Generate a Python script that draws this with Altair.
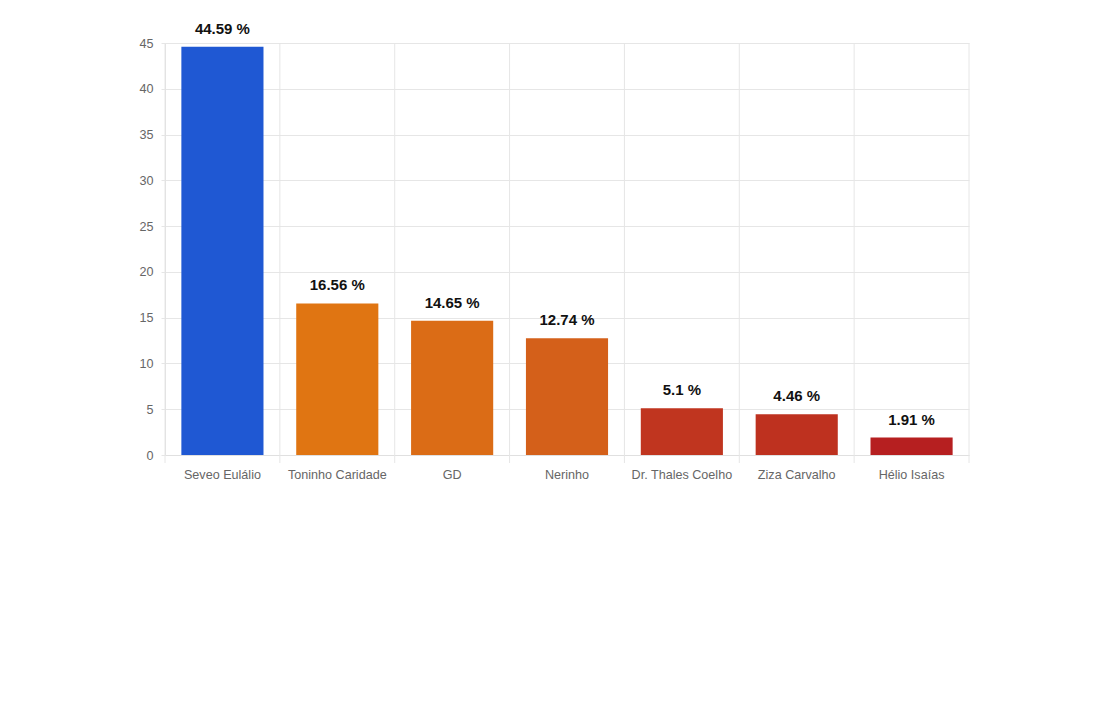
import altair as alt
import pandas as pd

candidates = ["Seveo Eulálio", "Toninho Caridade", "GD", "Nerinho",
              "Dr. Thales Coelho", "Ziza Carvalho", "Hélio Isaías"]
values = [44.59, 16.56, 14.65, 12.74, 5.1, 4.46, 1.91]
labels = ["44.59 %", "16.56 %", "14.65 %", "12.74 %", "5.1 %", "4.46 %", "1.91 %"]
colors = ["#1f58d3", "#e07512", "#db6c16", "#d4601a", "#c0351f", "#be311f", "#b61f20"]
boundaries = list(range(0, len(candidates) + 1))

df = pd.DataFrame({"candidate": candidates, "value": values, "label": labels})
bdf = pd.DataFrame({"b": boundaries})

x = alt.X("candidate:N", sort=candidates, title=None,
          scale=alt.Scale(paddingInner=0.285, paddingOuter=0.1425),
          axis=alt.Axis(labelAngle=0, grid=False, ticks=False, domainColor="#e0e0e0",
                        labelColor="#666666", labelFontSize=12.6, labelFont="Liberation Sans",
                        labelPadding=13))
y = alt.Y("value:Q", title=None,
          scale=alt.Scale(domain=[0, 45], nice=False),
          axis=alt.Axis(values=list(range(0, 50, 5)), grid=True, gridColor="#e6e6e6",
                        tickColor="#e6e6e6", tickSize=4, domainColor="#e0e0e0",
                        labelColor="#666666", labelFontSize=12.6, labelFont="Liberation Sans",
                        labelPadding=8))

grid = alt.Chart(bdf).mark_rule(color="#e6e6e6", strokeWidth=1).encode(
    x=alt.X("b:Q", scale=alt.Scale(domain=[0, len(candidates)], nice=False), axis=None),
    y=alt.value(0), y2=alt.value(420),
)

bars = alt.Chart(df).mark_bar().encode(
    x=x, y=y,
    color=alt.Color("candidate:N", scale=alt.Scale(domain=candidates, range=colors), legend=None),
)
text = alt.Chart(df).mark_text(dy=-13, baseline="alphabetic", fontSize=15, fontWeight="bold",
                               font="Liberation Sans", color="#111111").encode(
    x=alt.X("candidate:N", sort=candidates),
    y=alt.Y("value:Q"),
    text="label:N",
)

chart = alt.layer(grid, bars + text).resolve_scale(x="independent").properties(
    width=804, height=412,
    autosize=alt.AutoSizeParams(type="none"),
    padding={"left": 157, "top": 35, "right": 120, "bottom": 250},
).configure_view(stroke=None)

chart.save("out.html", embed_options={"renderer": "svg", "actions": False})
